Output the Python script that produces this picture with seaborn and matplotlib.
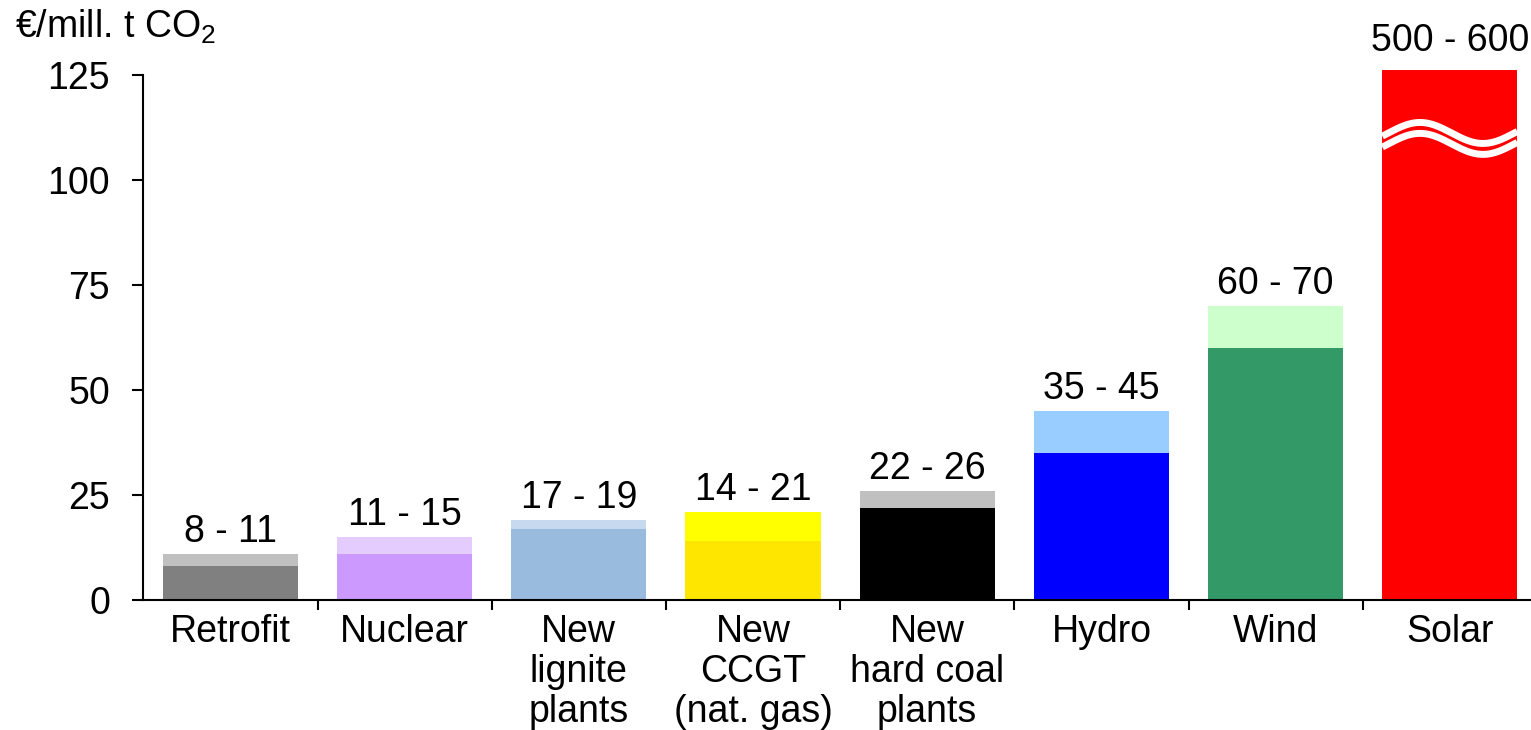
import numpy as np
import matplotlib
matplotlib.use("Agg")
import matplotlib.pyplot as plt
import seaborn as sns

# Abatement cost ranges (EUR per million t CO2)
categories = ["Retrofit", "Nuclear", "New\nlignite\nplants", "New\nCCGT\n(nat. gas)",
              "New\nhard coal\nplants", "Hydro", "Wind", "Solar"]
cost_low = [8, 11, 17, 14, 22, 35, 60, 500]
cost_high = [11, 15, 19, 21, 26, 45, 70, 600]
low_colors = ["#808080", "#CC99FF", "#99BBDD", "#FFE600", "#000000", "#0000FF", "#339966", "#FF0000"]
high_colors = ["#C0C0C0", "#E5CCFF", "#C6D9EE", "#FFFF00", "#C0C0C0", "#99CCFF", "#CCFFCC", "#FF0000"]
y_ticks = [0, 25, 50, 75, 100, 125]

sns.set_theme(style="white")
plt.rcParams["font.family"] = ["Liberation Sans", "DejaVu Sans"]
plt.rcParams["mathtext.fontset"] = "custom"
plt.rcParams["mathtext.rm"] = "Liberation Sans"
for key in ("text.color", "axes.labelcolor", "xtick.color", "ytick.color"):
    plt.rcParams[key] = "black"

FS = 27
W, H = 1531, 730
fig = plt.figure(figsize=(W / 100, H / 100), dpi=100)
ax = fig.add_axes([143.3 / W, 1 - 600 / H, 1 - 143.3 / W, (600 - 70) / H])

y_top = (600 - 70) / 4.2
bar_w = 0.775
x_idx = list(range(len(categories)))

# upper (light) segment first, then the lower (dark) segment over it
sns.barplot(x=x_idx, y=cost_high, hue=x_idx, palette=high_colors, width=bar_w,
            legend=False, ax=ax, saturation=1, linewidth=0, native_scale=True)
sns.barplot(x=x_idx, y=cost_low, hue=x_idx, palette=low_colors, width=bar_w,
            legend=False, ax=ax, saturation=1, linewidth=0, native_scale=True)

ax.set_xlim(-0.5, -0.5 + (W - 143.3) / 174.2)
ax.set_ylim(0, y_top)

# value range labels
for i, (lo, hi) in enumerate(zip(cost_low, cost_high)):
    clipped = hi > y_top
    ax.annotate(f"{lo} - {hi}", (i, min(hi, y_top)), xytext=(0, 14 if clipped else 8.5),
                textcoords="offset points", ha="center", va="baseline",
                fontsize=FS, color="black", annotation_clip=False)

# scale break on bars that run past the axis top
for i, hi in enumerate(cost_high):
    if hi > y_top:
        xs = np.linspace(i - bar_w / 2, i + bar_w / 2, 200)
        wave = 2.5 * np.cos(2 * np.pi * (xs - (i - 0.171)) / 0.723)
        for base in (111.2, 108.6):
            ax.plot(xs, base + wave, color="white", lw=5, solid_capstyle="butt", zorder=5)

# axes styling
for side in ("top", "right"):
    ax.spines[side].set_visible(False)
for side in ("left", "bottom"):
    ax.spines[side].set_color("black")
    ax.spines[side].set_linewidth(1.5)
ax.spines["left"].set_bounds(0, 125)

ax.set_yticks(y_ticks)
ax.set_yticklabels([str(v) for v in y_ticks], fontsize=FS, color="black")
ax.tick_params(axis="y", direction="out", length=8, width=1.5, color="black", pad=16, left=True)

ax.set_xticks([i + 0.5 for i in x_idx[:-1]])
ax.set_xticklabels([])
ax.tick_params(axis="x", which="major", direction="out", length=7, width=1.5, color="black", bottom=True)
ax.set_xticks(x_idx, minor=True)
ax.set_xticklabels(categories, minor=True, fontsize=FS, linespacing=1.14, color="black")
ax.tick_params(axis="x", which="minor", length=0, pad=10)
ax.set_xlabel("")
ax.set_ylabel("")
ax.grid(False)

fig.text(15 / W, 1 - 38 / H, "€/mill. t CO$_{\\mathrm{2}}$", fontsize=FS, ha="left", va="baseline",
         color="black")

fig.savefig("out.png", dpi=100)
